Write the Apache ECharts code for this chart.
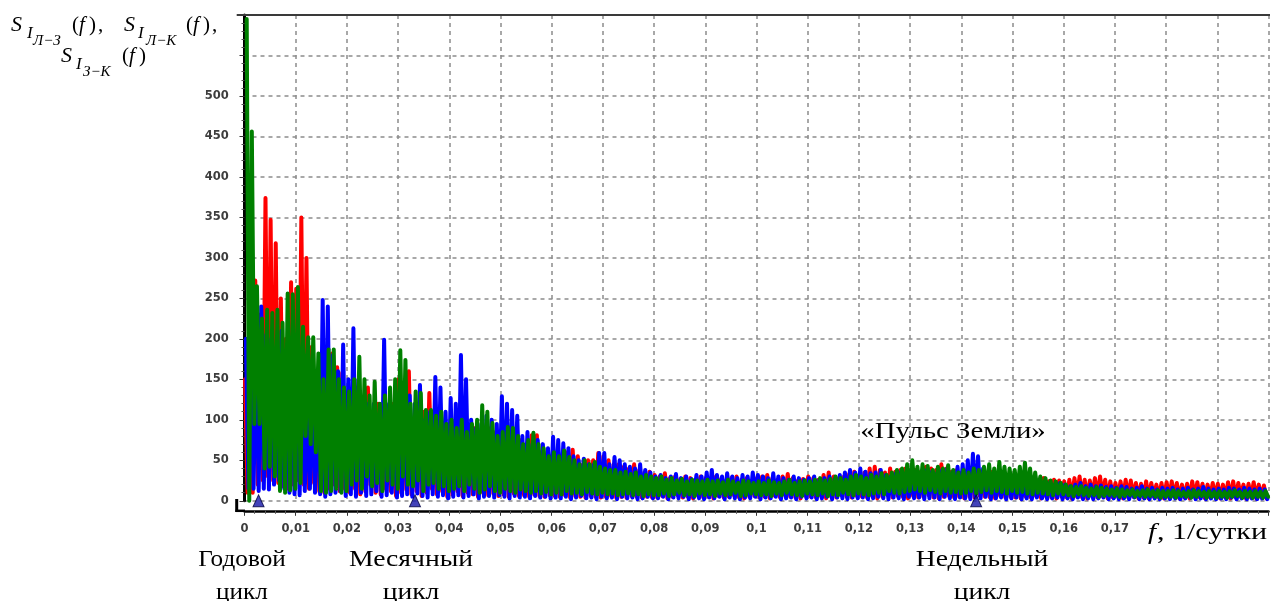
<!DOCTYPE html>
<html><head><meta charset="utf-8">
<script src="https://cdn.jsdelivr.net/npm/echarts@6/dist/echarts.min.js"></script>
<style>html,body{margin:0;padding:0;background:#fff}#c{width:1277px;height:601px}</style>
</head><body><div id="c"></div>
<script>
// frequency bin width (1/сутки); each bin holds the upper and lower envelope
const BIN = 0.001;

const redHi = [150,180,272,230,374,347,318,250,200,270, 262,350,300,190,150,120,130,182,165,158,
 120,110,140,120,140,110,120,100,110,120, 150,120,160,100,120,110,133,100,90,85,
 95,80,85,90,80,90,85,80,90,85, 70,75,80,70,75,70,81,81,60,55,
 55,50,55,60,63,55,45,50,50,59, 55,50,45,45,42,40,45,38,35,36,
 32,30,34,28,30,27,30,28,26,30, 28,26,30,27,25,28,30,26,28,25,
 28,30,32,28,26,30,33,28,25,27, 30,28,26,32,35,30,28,30,33,36,
 32,35,40,42,38,35,40,36,38,40, 35,38,36,42,40,38,45,40,36,38,
 35,38,40,42,35,32,36,30,34,30, 28,30,32,28,26,25,28,24,26,25,
 24,26,28,30,26,25,28,30,26,24, 22,24,26,25,22,21,24,22,20,22,
 23,24,22,20,21,24,23,21,20,22, 21,20,23,24,22,20,21,23,20,19];
const redLo = [10,10,20,25,30,25,22,18,15,20, 25,20,15,22,12,10,15,20,12,15,
 10,15,8,12,20,10,8,15,12,6, 10,14,8,12,6,10,15,8,12,5,
 8,12,6,10,8,5,10,7,9,6, 8,5,9,6,7,5,8,6,5,7,
 6,5,7,4,6,5,4,6,5,4, 5,6,4,5,4,6,5,4,5,4,
 4,6,3,5,7,4,5,3,6,4, 5,3,6,4,5,7,4,3,5,6,
 4,5,3,6,4,7,5,4,3,6, 5,4,6,3,5,4,7,5,4,6,
 5,4,6,3,5,7,4,6,5,3, 6,4,5,7,4,3,5,6,4,5,
 3,5,4,6,5,4,3,6,4,5, 4,3,5,4,6,3,5,4,3,5,
 4,3,5,4,3,5,4,6,3,4, 5,3,4,5,3,4,3,5,4,3,
 4,5,3,4,3,5,4,3,4,5, 3,4,3,4,5,3,4,3,4,3];

const blueHi = [200,200,200,240,205,200,190,210,180,190, 150,180,120,150,140,248,240,180,160,193,
 150,213,150,110,120,120,100,199,120,110, 130,130,130,120,143,100,110,153,140,110,
 127,120,180,150,100,90,95,105,100,95, 129,120,112,105,80,85,70,75,70,65,
 79,75,71,65,55,50,52,45,45,59, 59,45,54,50,45,42,40,45,38,35,
 30,32,28,30,33,28,30,27,32,30, 35,38,32,30,34,30,28,32,30,35,
 32,30,28,34,30,28,26,30,28,26, 28,30,26,28,30,27,32,35,38,35,
 40,36,34,35,38,32,30,34,36,32, 30,35,32,38,36,34,38,40,35,42,
 45,50,58,55,40,35,30,32,28,30, 26,28,24,26,22,24,20,22,20,22,
 20,18,20,22,18,20,18,19,17,18, 16,18,17,15,16,18,15,16,14,16,
 15,16,14,15,16,14,15,17,15,14, 15,14,16,15,14,16,15,14,15,14];
const blueLo = [15,15,12,15,14,20,25,15,10,8, 7,12,15,10,8,5,8,10,12,6,
 8,5,10,6,8,12,5,7,10,4, 6,8,5,9,6,4,8,5,7,3,
 5,7,4,6,8,3,5,6,4,7, 5,3,6,4,5,3,6,4,5,3,
 4,3,5,2,4,6,3,4,2,5, 3,4,2,5,3,4,2,3,5,3,
 3,5,2,4,3,5,2,4,3,2, 4,3,5,2,4,3,2,4,3,5,
 2,4,3,5,2,3,4,2,5,3, 4,2,3,5,2,4,3,2,4,3,
 4,2,3,5,3,2,4,3,2,5, 3,4,2,3,4,2,5,3,2,4,
 3,2,4,3,5,2,3,4,2,3, 4,2,3,2,4,3,2,3,4,2,
 3,2,4,2,3,2,3,4,2,3, 2,3,2,4,2,3,2,3,2,3,
 2,3,2,3,4,2,3,2,3,2, 3,2,4,2,3,2,3,2,3,2];

const greenHi = [595,456,265,225,236,232,236,220,256,255, 264,215,202,202,182,150,187,187,150,140,
 135,150,178,150,130,147,120,130,140,150, 186,174,120,135,133,112,112,105,110,95,
 100,90,100,85,95,100,118,110,96,80, 85,91,90,80,70,75,84,70,65,55,
 60,55,62,54,50,45,50,45,48,42, 40,38,38,35,36,33,35,30,32,30,
 28,30,26,28,25,27,24,26,25,24, 26,24,25,23,26,24,22,25,24,22,
 24,22,25,23,22,24,26,22,24,25, 24,26,28,25,27,30,28,26,30,32,
 30,28,32,30,34,32,35,38,40,45, 50,42,45,43,38,42,40,44,38,35,
 38,35,40,38,42,45,40,48,42,40, 38,42,47,40,35,30,28,25,24,22,
 20,18,17,18,16,15,17,16,15,14, 15,14,13,14,12,13,14,12,13,12,
 12,13,12,11,12,13,12,11,12,11, 12,11,12,13,11,12,11,12,11,12];
const greenLo = [0,95,95,40,42,30,12,10,13,15, 22,80,70,60,12,10,12,15,10,12,
 20,25,15,30,18,22,12,25,20,15, 30,20,18,25,12,20,22,15,18,12,
 15,18,12,20,15,10,14,18,12,10, 15,12,10,14,12,10,12,9,11,8,
 10,8,12,9,10,8,11,9,8,10, 8,9,7,8,9,7,8,6,8,7,
 7,9,6,8,10,7,8,6,9,7, 8,6,9,7,8,10,6,7,9,8,
 7,8,6,9,7,10,8,7,6,9, 8,7,9,6,8,7,10,8,7,9,
 8,7,9,10,8,12,10,9,11,12, 14,12,10,13,11,9,12,10,11,9,
 10,12,9,11,13,10,12,11,9,12, 10,11,9,8,10,9,8,7,9,8,
 7,6,8,7,6,7,5,6,7,6, 5,6,7,5,6,5,6,5,4,5,
 5,4,6,5,4,5,6,4,5,4, 5,4,5,6,4,5,4,5,4,5];

// marked cycles: annual, monthly, weekly (1/сутки)
const cycleFreq = [0.00274, 0.0333, 0.1429];
const cycleLabels = ['Годовой\nцикл', 'Месячный\nцикл', 'Недельный\nцикл'];

// each bin: one stroke up to its upper envelope and one down to its lower envelope
function strokes(hi, lo, phase) {
  const out = [];
  for (let k = 0; k < hi.length; k++) {
    out.push([k * BIN + phase * BIN, hi[k]]);
    out.push([k * BIN + (phase + 0.5) * BIN, lo[k]]);
  }
  return out;
}

const chart = echarts.init(document.getElementById('c'));
const tickFont = {fontFamily: 'DejaVu Sans', fontSize: 11.5, fontWeight: 'bold', color: '#3d3d3d'};
const serif = '"Liberation Serif", "Times New Roman", serif';
const gridLine = {show: true, lineStyle: {color: '#8c8c8c', width: 1.5, type: [4, 4]}};

function T(x, y, s, size, opts) {
  opts = opts || {};
  return {type: 'text', x: x, y: y, z: 100, scaleX: opts.sx || 1,
    style: {text: s, font: (opts.italic ? 'italic ' : '') + size + 'px ' + serif, fill: '#000',
      align: opts.align || 'left', verticalAlign: 'middle', lineHeight: opts.lh || size}};
}

const graphics = [
  // axis frame pieces
  {type: 'line', z: 50, shape: {x1: 236.7, y1: 15, x2: 1270, y2: 15}, style: {stroke: '#3a3a3a', lineWidth: 2}},
  {type: 'line', z: 50, shape: {x1: 235.5, y1: 510.8, x2: 245, y2: 510.8}, style: {stroke: '#000', lineWidth: 2.5}},
  {type: 'line', z: 50, shape: {x1: 236.7, y1: 499, x2: 236.7, y2: 512}, style: {stroke: '#000', lineWidth: 3}},
  // title
  T(11, 25, 'S', 22, {italic: true}),
  T(27, 34, 'I', 17, {italic: true}),
  T(33, 41, 'Л−З', 15, {italic: true}),
  T(72, 25, '(', 21), T(79, 25, 'f', 21, {italic: true}), T(89, 25, ')', 21), T(98, 25, ',', 21),
  T(124, 25, 'S', 22, {italic: true}),
  T(138, 34, 'I', 17, {italic: true}),
  T(146, 41, 'Л−K', 15, {italic: true}),
  T(186, 25, '(', 21), T(193, 25, 'f', 21, {italic: true}), T(203, 25, ')', 21), T(212, 25, ',', 21),
  T(61, 56, 'S', 22, {italic: true}),
  T(76, 65, 'I', 17, {italic: true}),
  T(83, 72, 'З−K', 15, {italic: true}),
  T(122, 56, '(', 21), T(129, 56, 'f', 21, {italic: true}), T(139, 56, ')', 21),
  // annotations
  T(953, 432, '«Пульс Земли»', 24, {align: 'center', sx: 1.2}),
  T(242, 576, cycleLabels[0], 24, {align: 'center', sx: 1.05, lh: 33}),
  T(411, 576, cycleLabels[1], 24, {align: 'center', sx: 1.15, lh: 33}),
  T(982, 576, cycleLabels[2], 24, {align: 'center', sx: 1.15, lh: 33}),
  T(1148, 533, 'f', 24, {italic: true, sx: 1.2}),
  T(1157, 533, ', 1/сутки', 24, {sx: 1.25})
];

const strokeStyle = function (c) { return {color: c, width: 4, join: 'round', cap: 'round'}; };

chart.setOption({
  animation: false,
  backgroundColor: '#fff',
  grid: {left: 244.5, right: 8.5, top: 15, bottom: 100.2, containLabel: false},
  xAxis: {
    type: 'value', min: 0, max: 0.2, interval: 0.01, offset: 10,
    axisLine: {show: true, onZero: false, lineStyle: {color: '#000', width: 2.5}},
    axisTick: {show: true, length: 5, lineStyle: {color: '#333', width: 1}},
    minorTick: {show: true, splitNumber: 5, length: 3, lineStyle: {color: '#555'}},
    axisLabel: Object.assign({margin: 12, formatter: function (v) {
      if (v > 0.175) return '';
      return String(parseFloat(v.toFixed(2))).replace('.', ',');
    }}, tickFont),
    splitLine: gridLine
  },
  yAxis: {
    type: 'value', min: 0, max: 600, interval: 50, offset: 7.8,
    axisLine: {show: true, lineStyle: {color: '#000', width: 3}},
    axisTick: {show: true, length: 5, lineStyle: {color: '#333'}},
    minorTick: {show: true, splitNumber: 5, length: 3, lineStyle: {color: '#555'}},
    axisLabel: Object.assign({margin: 8, formatter: function (v) { return v > 500 ? '' : String(v); }}, tickFont),
    splitLine: gridLine
  },
  series: [
    {type: 'line', name: 'SIЛ-З', data: strokes(redHi, redLo, 0.1), showSymbol: false, clip: false, silent: true,
      lineStyle: strokeStyle('#ff0000'), z: 2},
    {type: 'line', name: 'SIЛ-К', data: strokes(blueHi, blueLo, 0.27), showSymbol: false, clip: false, silent: true,
      lineStyle: strokeStyle('#0000ff'), z: 3},
    {type: 'line', name: 'SIЗ-К', data: strokes(greenHi, greenLo, 0.43), showSymbol: false, clip: false, silent: true,
      lineStyle: strokeStyle('#008000'), z: 4},
    {type: 'scatter', data: cycleFreq.map(function (f) { return [f, 0]; }), symbol: 'triangle', symbolSize: [11, 12],
      clip: false, silent: true, z: 10,
      itemStyle: {color: '#1414a8', borderColor: '#000040', borderWidth: 1}}
  ],
  graphic: graphics
});
</script>
</body></html>
